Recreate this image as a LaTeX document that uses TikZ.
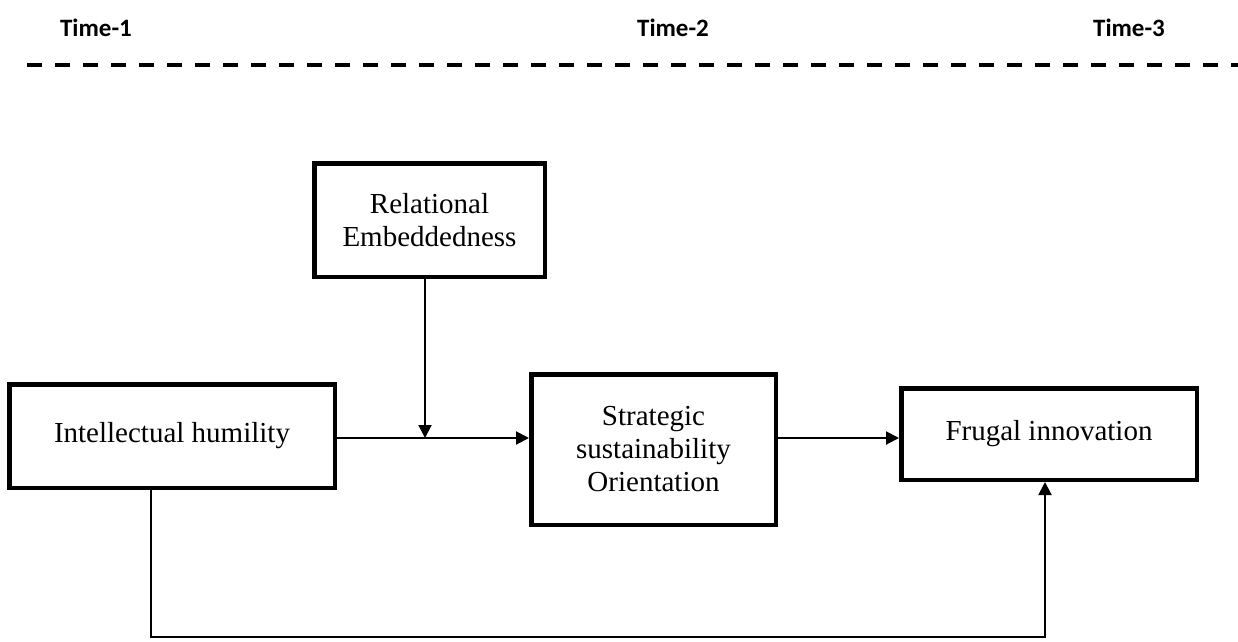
\documentclass[tikz,border=0pt]{standalone}
\usepackage{fontspec}
\setmainfont{Liberation Serif}
\newfontfamily\timefont{Carlito}
\usetikzlibrary{arrows.meta}
\begin{document}
\begin{tikzpicture}[x=1pt,y=-1pt,
  box/.style={draw=black,line width=4.5pt,fill=white,align=center,inner sep=0pt,
    font=\fontsize{29}{33}\selectfont},
  timelbl/.style={font=\timefont\bfseries\fontsize{25}{30}\selectfont,inner sep=0pt},
  conn/.style={line width=2pt},
  arr/.style={conn,-{Triangle[length=13pt,width=13pt]}}]
\useasboundingbox (0,0) rectangle (1238,641);
% time labels
\node[timelbl] (t1) at (96,28) {Time-1};
\node[timelbl] (t2) at (673,28) {Time-2};
\node[timelbl] (t3) at (1129,28) {Time-3};
\coordinate (dl) at (27,65);
\coordinate (dr) at (1238,65);
\draw[line width=3.5pt,dash pattern=on 15pt off 13pt] (dl) -- (dr);
% boxes
\node[box,minimum width=325.5pt,minimum height=103.5pt] (IH) at (172,436) {Intellectual humility};
\node[box,minimum width=230.5pt,minimum height=113.5pt] (RE) at (429.5,220) {Relational\\Embeddedness};
\node[box,minimum width=244.5pt,minimum height=150.5pt] (SSO) at (653.5,449.5) {Strategic\\sustainability\\Orientation};
\node[box,minimum width=295.5pt,minimum height=91.5pt] (FI) at (1049,434) {Frugal innovation};
% connectors
\coordinate (h) at (0,438);
\coordinate (v) at (425,0);
\draw[arr] (IH.east |- h) -- (SSO.west |- h);
\draw[arr] (RE.south -| v) -- (v |- h);
\draw[arr] (SSO.east |- h) -- (FI.west |- h);
\coordinate (b1) at (151,637);
\coordinate (b2) at (1045,637);
\draw[arr] (IH.south -| b1) -- (b1) -- (b2) -- (FI.south -| b2);
\end{tikzpicture}
\end{document}
